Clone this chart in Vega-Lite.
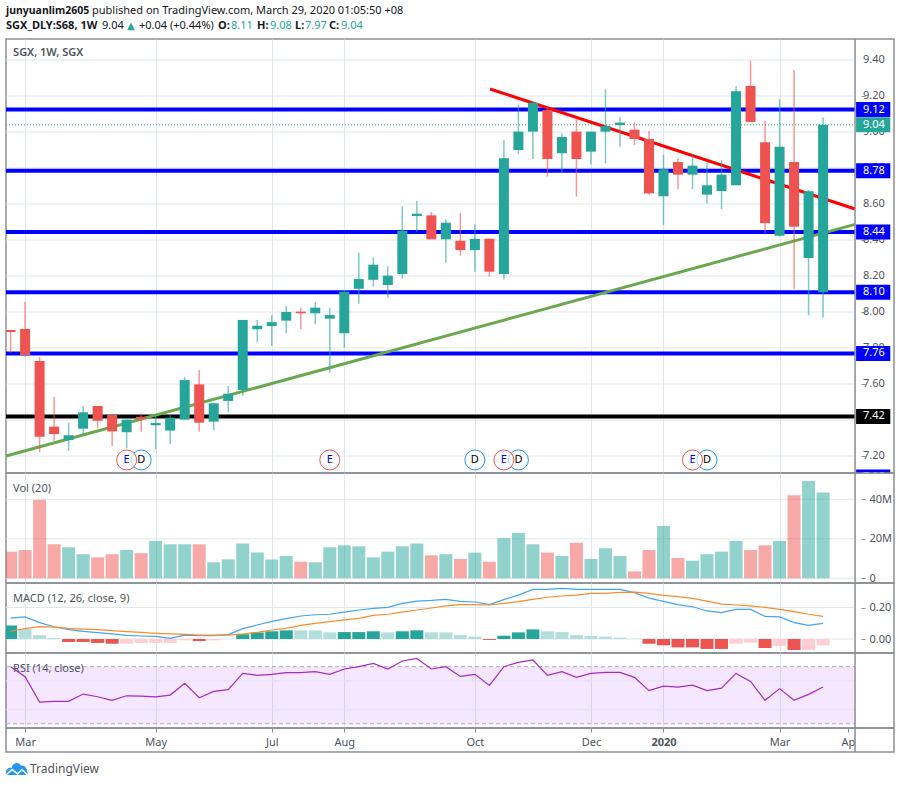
{
  "$schema": "https://vega.github.io/schema/vega-lite/v6.json",
  "padding": {"left": -1, "right": 3, "top": 0, "bottom": 0},
  "background": "white",
  "spacing": 0,
  "bounds": "flush",
  "resolve": {"scale": {"color": "independent"}},
  "config": {
    "font": "Noto Sans",
    "view": {"stroke": "#8a8e95", "strokeWidth": 1.5},
    "concat": {"spacing": 0},
    "axis": {"title": null, "domain": false, "grid": false, "labelColor": "#50535e", "labelFont": "Noto Sans", "labelFontSize": 11, "tickColor": "#8a8e95", "labelOverlap": false}
  },
  "datasets": {
    "bars": [
      {"d":"2019-02-25","o":7.9,"h":7.9,"l":7.774,"c":7.889,"vol":13.5,"hist":0.085,"tone":"up","macd":0.133,"sig":0.049,"rsi":70},
      {"d":"2019-03-04","o":7.906,"h":8.057,"l":7.752,"c":7.761,"vol":14.3,"hist":0.063,"tone":"upFade","macd":0.14,"sig":0.066,"rsi":63},
      {"d":"2019-03-11","o":7.728,"h":7.75,"l":7.222,"c":7.307,"vol":39.7,"hist":0.025,"tone":"upFade","macd":0.104,"sig":0.078,"rsi":45.2},
      {"d":"2019-03-18","o":7.363,"h":7.529,"l":7.285,"c":7.322,"vol":17.2,"hist":0.006,"tone":"upFade","macd":0.078,"sig":0.076,"rsi":45.7},
      {"d":"2019-03-25","o":7.289,"h":7.385,"l":7.229,"c":7.315,"vol":15.7,"hist":-0.019,"tone":"down","macd":0.059,"sig":0.068,"rsi":45.7},
      {"d":"2019-04-01","o":7.352,"h":7.479,"l":7.317,"c":7.443,"vol":12.2,"hist":-0.019,"tone":"down","macd":0.049,"sig":0.063,"rsi":50.8},
      {"d":"2019-04-08","o":7.478,"h":7.478,"l":7.354,"c":7.396,"vol":10.6,"hist":-0.025,"tone":"down","macd":0.04,"sig":0.059,"rsi":48.9},
      {"d":"2019-04-15","o":7.428,"h":7.428,"l":7.256,"c":7.337,"vol":12.2,"hist":-0.03,"tone":"down","macd":0.032,"sig":0.053,"rsi":46.4},
      {"d":"2019-04-22","o":7.332,"h":7.402,"l":7.243,"c":7.402,"vol":14.3,"hist":-0.03,"tone":"downFade","macd":0.023,"sig":0.047,"rsi":49.6},
      {"d":"2019-04-29","o":7.418,"h":7.437,"l":7.335,"c":7.405,"vol":12.7,"hist":-0.025,"tone":"downFade","macd":0.019,"sig":0.042,"rsi":49.4},
      {"d":"2019-05-06","o":7.371,"h":7.428,"l":7.237,"c":7.383,"vol":18.9,"hist":-0.025,"tone":"downFade","macd":0.017,"sig":0.036,"rsi":48.9},
      {"d":"2019-05-13","o":7.341,"h":7.428,"l":7.267,"c":7.413,"vol":17.2,"hist":-0.025,"tone":"downFade","macd":0.004,"sig":0.032,"rsi":50.1},
      {"d":"2019-05-20","o":7.402,"h":7.639,"l":7.402,"c":7.622,"vol":17.2,"hist":-0.008,"tone":"downFade","macd":0.025,"sig":0.03,"rsi":58.3},
      {"d":"2019-05-27","o":7.598,"h":7.678,"l":7.335,"c":7.385,"vol":17.2,"hist":-0.013,"tone":"down","macd":0.021,"sig":0.025,"rsi":48.2},
      {"d":"2019-06-03","o":7.391,"h":7.493,"l":7.344,"c":7.493,"vol":8.1,"hist":-0.008,"tone":"downFade","macd":0.021,"sig":0.025,"rsi":52.7},
      {"d":"2019-06-10","o":7.506,"h":7.589,"l":7.444,"c":7.546,"vol":9.6,"hist":0.001,"tone":"upFade","macd":0.028,"sig":0.025,"rsi":53.9},
      {"d":"2019-06-17","o":7.567,"h":7.956,"l":7.535,"c":7.956,"vol":17.6,"hist":0.03,"tone":"up","macd":0.066,"sig":0.032,"rsi":65.3},
      {"d":"2019-06-24","o":7.904,"h":7.956,"l":7.832,"c":7.924,"vol":13,"hist":0.042,"tone":"up","macd":0.089,"sig":0.042,"rsi":63.9},
      {"d":"2019-07-01","o":7.922,"h":7.983,"l":7.811,"c":7.944,"vol":9.5,"hist":0.049,"tone":"up","macd":0.112,"sig":0.057,"rsi":64.6},
      {"d":"2019-07-08","o":7.952,"h":8.033,"l":7.882,"c":8.0,"vol":11.3,"hist":0.055,"tone":"up","macd":0.129,"sig":0.068,"rsi":65.8},
      {"d":"2019-07-15","o":8.002,"h":8.024,"l":7.904,"c":7.993,"vol":8.4,"hist":0.055,"tone":"upFade","macd":0.146,"sig":0.087,"rsi":65.8},
      {"d":"2019-07-22","o":7.993,"h":8.056,"l":7.932,"c":8.024,"vol":8.1,"hist":0.055,"tone":"upFade","macd":0.154,"sig":0.099,"rsi":66.5},
      {"d":"2019-07-29","o":7.963,"h":8.024,"l":7.663,"c":7.983,"vol":15.7,"hist":0.042,"tone":"upFade","macd":0.157,"sig":0.11,"rsi":64.6},
      {"d":"2019-08-05","o":7.882,"h":8.122,"l":7.802,"c":8.113,"vol":16.7,"hist":0.044,"tone":"up","macd":0.171,"sig":0.121,"rsi":68.4},
      {"d":"2019-08-12","o":8.129,"h":8.328,"l":8.046,"c":8.183,"vol":16.2,"hist":0.044,"tone":"up","macd":0.184,"sig":0.131,"rsi":70},
      {"d":"2019-08-19","o":8.179,"h":8.304,"l":8.141,"c":8.263,"vol":10.6,"hist":0.049,"tone":"up","macd":0.195,"sig":0.15,"rsi":72.3},
      {"d":"2019-08-26","o":8.15,"h":8.254,"l":8.079,"c":8.202,"vol":13.5,"hist":0.042,"tone":"upFade","macd":0.201,"sig":0.157,"rsi":68.4},
      {"d":"2019-09-02","o":8.211,"h":8.587,"l":8.185,"c":8.452,"vol":16.2,"hist":0.049,"tone":"up","macd":0.226,"sig":0.171,"rsi":74},
      {"d":"2019-09-09","o":8.533,"h":8.617,"l":8.444,"c":8.546,"vol":17.6,"hist":0.055,"tone":"up","macd":0.241,"sig":0.184,"rsi":75.8},
      {"d":"2019-09-16","o":8.537,"h":8.556,"l":8.404,"c":8.404,"vol":11.6,"hist":0.042,"tone":"upFade","macd":0.245,"sig":0.197,"rsi":68.4},
      {"d":"2019-09-23","o":8.404,"h":8.515,"l":8.274,"c":8.496,"vol":12.2,"hist":0.042,"tone":"upFade","macd":0.252,"sig":0.21,"rsi":70},
      {"d":"2019-09-30","o":8.396,"h":8.548,"l":8.313,"c":8.344,"vol":9.8,"hist":0.025,"tone":"upFade","macd":0.239,"sig":0.218,"rsi":63.2},
      {"d":"2019-10-07","o":8.344,"h":8.487,"l":8.224,"c":8.406,"vol":13,"hist":0.015,"tone":"upFade","macd":0.235,"sig":0.218,"rsi":64.6},
      {"d":"2019-10-14","o":8.407,"h":8.407,"l":8.196,"c":8.224,"vol":8.4,"hist":-0.006,"tone":"down","macd":0.218,"sig":0.216,"rsi":56.9},
      {"d":"2019-10-21","o":8.211,"h":8.954,"l":8.18,"c":8.854,"vol":20.3,"hist":0.021,"tone":"up","macd":0.25,"sig":0.226,"rsi":70},
      {"d":"2019-10-28","o":8.9,"h":9.152,"l":8.879,"c":9.002,"vol":23,"hist":0.042,"tone":"up","macd":0.279,"sig":0.237,"rsi":73},
      {"d":"2019-11-04","o":9.002,"h":9.163,"l":8.85,"c":9.163,"vol":17.2,"hist":0.061,"tone":"up","macd":0.315,"sig":0.252,"rsi":74.7},
      {"d":"2019-11-11","o":9.122,"h":9.137,"l":8.752,"c":8.85,"vol":13,"hist":0.049,"tone":"upFade","macd":0.315,"sig":0.265,"rsi":63.9},
      {"d":"2019-11-18","o":8.882,"h":8.993,"l":8.771,"c":8.972,"vol":11.3,"hist":0.044,"tone":"upFade","macd":0.322,"sig":0.273,"rsi":66.5},
      {"d":"2019-11-25","o":9.002,"h":9.076,"l":8.641,"c":8.85,"vol":18,"hist":0.025,"tone":"upFade","macd":0.315,"sig":0.279,"rsi":62.5},
      {"d":"2019-12-02","o":8.891,"h":9.002,"l":8.82,"c":9.002,"vol":9.8,"hist":0.019,"tone":"upFade","macd":0.315,"sig":0.29,"rsi":65.3},
      {"d":"2019-12-09","o":9.002,"h":9.237,"l":8.826,"c":9.033,"vol":15.2,"hist":0.015,"tone":"upFade","macd":0.315,"sig":0.29,"rsi":66},
      {"d":"2019-12-16","o":9.039,"h":9.082,"l":8.918,"c":9.052,"vol":11.3,"hist":0.008,"tone":"upFade","macd":0.315,"sig":0.296,"rsi":66},
      {"d":"2019-12-23","o":9.013,"h":9.054,"l":8.928,"c":8.961,"vol":3.5,"hist":0.001,"tone":"upFade","macd":0.294,"sig":0.298,"rsi":62.5},
      {"d":"2019-12-30","o":8.961,"h":9.006,"l":8.652,"c":8.659,"vol":14.3,"hist":-0.03,"tone":"down","macd":0.26,"sig":0.29,"rsi":53.2},
      {"d":"2020-01-06","o":8.643,"h":8.874,"l":8.483,"c":8.793,"vol":26.5,"hist":-0.04,"tone":"down","macd":0.239,"sig":0.277,"rsi":56.4},
      {"d":"2020-01-13","o":8.833,"h":8.854,"l":8.682,"c":8.763,"vol":10.3,"hist":-0.053,"tone":"down","macd":0.218,"sig":0.269,"rsi":55.7},
      {"d":"2020-01-20","o":8.763,"h":8.872,"l":8.682,"c":8.813,"vol":8.9,"hist":-0.053,"tone":"down","macd":0.205,"sig":0.258,"rsi":57.1},
      {"d":"2020-01-27","o":8.652,"h":8.833,"l":8.602,"c":8.704,"vol":12.2,"hist":-0.063,"tone":"down","macd":0.178,"sig":0.241,"rsi":53.2},
      {"d":"2020-02-03","o":8.672,"h":8.844,"l":8.572,"c":8.763,"vol":13.5,"hist":-0.063,"tone":"down","macd":0.167,"sig":0.222,"rsi":55},
      {"d":"2020-02-10","o":8.704,"h":9.256,"l":8.704,"c":9.226,"vol":18.9,"hist":-0.03,"tone":"downFade","macd":0.188,"sig":0.216,"rsi":65.3},
      {"d":"2020-02-17","o":9.256,"h":9.396,"l":9.056,"c":9.056,"vol":14.3,"hist":-0.023,"tone":"downFade","macd":0.188,"sig":0.21,"rsi":59.7},
      {"d":"2020-02-24","o":8.943,"h":9.063,"l":8.437,"c":8.494,"vol":16.7,"hist":-0.057,"tone":"down","macd":0.144,"sig":0.201,"rsi":46.4},
      {"d":"2020-03-02","o":8.424,"h":9.182,"l":8.418,"c":8.918,"vol":18.9,"hist":-0.044,"tone":"downFade","macd":0.14,"sig":0.188,"rsi":54.6},
      {"d":"2020-03-09","o":8.833,"h":9.344,"l":8.126,"c":8.474,"vol":42,"hist":-0.07,"tone":"down","macd":0.104,"sig":0.174,"rsi":46.4},
      {"d":"2020-03-16","o":8.3,"h":8.678,"l":7.982,"c":8.671,"vol":49.3,"hist":-0.07,"tone":"downFade","macd":0.087,"sig":0.157,"rsi":50.6},
      {"d":"2020-03-23","o":8.11,"h":9.08,"l":7.97,"c":9.04,"vol":43.4,"hist":-0.04,"tone":"downFade","macd":0.099,"sig":0.144,"rsi":55.7}
    ],
    "levels": [
      {"level":9.125,"label":"9.12","kind":"support"},
      {"level":8.785,"label":"8.78","kind":"support"},
      {"level":8.445,"label":"8.44","kind":"support"},
      {"level":8.11,"label":"8.10","kind":"support"},
      {"level":7.77,"label":"7.76","kind":"support"},
      {"level":7.42,"label":"7.42","kind":"base"},
      {"level":7.083,"label":"7.08","kind":"support"}
    ],
    "priceTicks": [{"p":7.2},{"p":7.4},{"p":7.6},{"p":7.8},{"p":8.0},{"p":8.2},{"p":8.4},{"p":8.6},{"p":8.8},{"p":9.0},{"p":9.2},{"p":9.4}],
    "events": [
      {"d":"2019-04-29","ev":"D"},
      {"d":"2019-04-22","ev":"E"},
      {"d":"2019-07-29","ev":"E"},
      {"d":"2019-10-07","ev":"D"},
      {"d":"2019-10-28","ev":"D"},
      {"d":"2019-10-21","ev":"E"},
      {"d":"2020-01-27","ev":"D"},
      {"d":"2020-01-20","ev":"E"}
    ]
  },
  "vconcat": [
    {
      "width": 888,
      "height": 39,
      "view": {"stroke": null},
      "data": {"values": [{"row": 1}]},
      "encoding": {
        "x": {"datum": 0, "type": "quantitative", "scale": {"domain": [0, 888], "range": [0, 888]}, "axis": null},
        "y": {"datum": 11, "type": "quantitative", "scale": {"domain": [0, 39], "range": [0, 39]}, "axis": null}
      },
      "layer": [
        {"mark": {"type": "text", "align": "left", "fontSize": 10.5, "fontWeight": "bold", "color": "#131722", "text": "junyuanlim2605"}},
        {"mark": {"type": "text", "align": "left", "fontSize": 11, "color": "#131722", "text": "published on TradingView.com, March 29, 2020 01:05:50 +08"}, "encoding": {"x": {"datum": 86, "type": "quantitative"}}},
        {"mark": {"type": "text", "align": "left", "fontSize": 11, "fontWeight": "bold", "color": "#131722", "text": "SGX_DLY:S68, 1W"}, "encoding": {"y": {"datum": 26, "type": "quantitative"}}},
        {"mark": {"type": "text", "align": "left", "fontSize": 11, "color": "#131722", "text": "9.04"}, "encoding": {"x": {"datum": 96, "type": "quantitative"}, "y": {"datum": 26, "type": "quantitative"}}},
        {"mark": {"type": "text", "align": "left", "fontSize": 10, "font": "DejaVu Sans", "color": "#26a69a", "text": "▲"}, "encoding": {"x": {"datum": 121, "type": "quantitative"}, "y": {"datum": 26, "type": "quantitative"}}},
        {"mark": {"type": "text", "align": "left", "fontSize": 11, "color": "#131722", "text": "+0.04 (+0.44%)"}, "encoding": {"x": {"datum": 133, "type": "quantitative"}, "y": {"datum": 26, "type": "quantitative"}}},
        {"mark": {"type": "text", "align": "left", "fontSize": 11, "fontWeight": "bold", "color": "#131722", "text": "O:"}, "encoding": {"x": {"datum": 212, "type": "quantitative"}, "y": {"datum": 26, "type": "quantitative"}}},
        {"mark": {"type": "text", "align": "left", "fontSize": 11, "color": "#26a69a", "text": "8.11"}, "encoding": {"x": {"datum": 225, "type": "quantitative"}, "y": {"datum": 26, "type": "quantitative"}}},
        {"mark": {"type": "text", "align": "left", "fontSize": 11, "fontWeight": "bold", "color": "#131722", "text": "H:"}, "encoding": {"x": {"datum": 251, "type": "quantitative"}, "y": {"datum": 26, "type": "quantitative"}}},
        {"mark": {"type": "text", "align": "left", "fontSize": 11, "color": "#26a69a", "text": "9.08"}, "encoding": {"x": {"datum": 264, "type": "quantitative"}, "y": {"datum": 26, "type": "quantitative"}}},
        {"mark": {"type": "text", "align": "left", "fontSize": 11, "fontWeight": "bold", "color": "#131722", "text": "L:"}, "encoding": {"x": {"datum": 289, "type": "quantitative"}, "y": {"datum": 26, "type": "quantitative"}}},
        {"mark": {"type": "text", "align": "left", "fontSize": 11, "color": "#26a69a", "text": "7.97"}, "encoding": {"x": {"datum": 299, "type": "quantitative"}, "y": {"datum": 26, "type": "quantitative"}}},
        {"mark": {"type": "text", "align": "left", "fontSize": 11, "fontWeight": "bold", "color": "#131722", "text": "C:"}, "encoding": {"x": {"datum": 323, "type": "quantitative"}, "y": {"datum": 26, "type": "quantitative"}}},
        {"mark": {"type": "text", "align": "left", "fontSize": 11, "color": "#26a69a", "text": "9.04"}, "encoding": {"x": {"datum": 335, "type": "quantitative"}, "y": {"datum": 26, "type": "quantitative"}}}
      ]
    },
    {
      "width": 888,
      "height": 434,
      "layer": [
        {
          "data": {"name": "priceTicks"},
          "mark": {"type": "rule", "color": "#dfe7ec", "strokeWidth": 1},
          "encoding": {
            "x": {"datum": {"year":2019,"month":2,"date":22,"hours":19}, "type": "temporal", "title": null, "scale": {"nice": false, "padding": 0, "domain": ["2019-02-22T19:00:00", "2020-04-26T05:00:00"]},
              "axis": {"values": ["2019-03-04", "2019-05-06", "2019-07-01", "2019-08-05", "2019-10-07", "2019-12-02", "2020-01-06", "2020-03-02"], "labels": false, "ticks": false, "grid": true, "gridColor": "#dfe7ec", "title": null}},
            "x2": {"datum": {"year":2020,"month":4,"date":7,"hours":10}},
            "y": {"field": "p", "type": "quantitative", "title": null, "scale": {"nice": false, "padding": 0, "domain": [7.1056, 9.5167]}, "axis": {"values": [7.2,7.4,7.6,7.8,8.0,8.2,8.4,8.6,8.8,9.0,9.2,9.4], "orient": "right", "offset": -33, "labels": false, "tickSize": 4, "title": null}}
          }
        },
        {
          "data": {"name": "priceTicks"},
          "mark": {"type": "text", "align": "left", "color": "#50535e", "fontSize": 11},
          "encoding": {
            "x": {"datum": {"year":2020,"month":4,"date":11,"hours":5}, "type": "temporal"},
            "y": {"field": "p", "type": "quantitative", "title": null},
            "text": {"field": "p", "type": "quantitative", "format": ".2f"}
          }
        },
        {
          "data": {"name": "levels"},
          "mark": {"type": "rule", "strokeWidth": 4, "clip": true},
          "encoding": {
            "x": {"datum": {"year":2019,"month":2,"date":22,"hours":19}, "type": "temporal"},
            "x2": {"datum": {"year":2020,"month":4,"date":7,"hours":10}},
            "y": {"field": "level", "type": "quantitative", "title": null},
            "color": {"field": "kind", "type": "nominal", "scale": {"domain": ["support", "base"], "range": ["#0000ff", "#000000"]}, "legend": null}
          }
        },
        {
          "data": {"values": [{"p": 9.04}]},
          "mark": {"type": "rule", "strokeWidth": 1, "strokeDash": [1, 2], "color": "#26a69a"},
          "encoding": {
            "x": {"datum": {"year":2019,"month":2,"date":22,"hours":19}, "type": "temporal"},
            "x2": {"datum": {"year":2020,"month":4,"date":7,"hours":10}},
            "y": {"field": "p", "type": "quantitative", "title": null}
          }
        },
        {
          "data": {"values": [{"d": "2019-10-14T08:00:00", "p": 9.239}, {"d": "2020-04-07T10:00:00", "p": 8.572}]},
          "mark": {"type": "line", "color": "#ff0000", "strokeWidth": 3},
          "encoding": {"x": {"field": "d", "type": "temporal", "title": null}, "y": {"field": "p", "type": "quantitative", "title": null}}
        },
        {
          "data": {"values": [{"d": "2019-02-22T19:00:00", "p": 7.2}, {"d": "2020-04-07T10:00:00", "p": 8.487}]},
          "mark": {"type": "line", "color": "#6aa84f", "strokeWidth": 3},
          "encoding": {"x": {"field": "d", "type": "temporal", "title": null}, "y": {"field": "p", "type": "quantitative", "title": null}}
        },
        {
          "data": {"name": "bars"},
          "mark": {"type": "rule", "strokeWidth": 1.5, "opacity": 0.6, "clip": true},
          "encoding": {
            "x": {"field": "d", "type": "temporal", "title": null},
            "y": {"field": "h", "type": "quantitative", "title": null},
            "y2": {"field": "l"},
            "color": {"condition": {"test": "datum.c >= datum.o", "value": "#26a69a"}, "value": "#ef5350"}
          }
        },
        {
          "data": {"name": "bars"},
          "mark": {"type": "bar", "size": 10, "clip": true},
          "encoding": {
            "x": {"field": "d", "type": "temporal", "title": null},
            "y": {"field": "o", "type": "quantitative", "title": null},
            "y2": {"field": "c"},
            "color": {"condition": {"test": "datum.c >= datum.o", "value": "#26a69a"}, "value": "#ef5350"}
          }
        },
        {
          "data": {"name": "events"},
          "mark": {"type": "point", "shape": "circle", "size": 400, "filled": true, "fill": "white", "fillOpacity": 0.6, "strokeWidth": 1, "opacity": 1},
          "encoding": {
            "x": {"field": "d", "type": "temporal", "title": null},
            "y": {"datum": 7.178, "type": "quantitative"},
            "stroke": {"field": "ev", "type": "nominal", "scale": {"domain": ["E", "D"], "range": ["#ef5350", "#2196f3"]}, "legend": null}
          }
        },
        {
          "data": {"name": "events"},
          "mark": {"type": "text", "fontSize": 11},
          "encoding": {
            "x": {"field": "d", "type": "temporal", "title": null},
            "y": {"datum": 7.178, "type": "quantitative"},
            "text": {"field": "ev"},
            "color": {"field": "ev", "type": "nominal", "scale": {"domain": ["E", "D"], "range": ["#ef5350", "#2196f3"]}, "legend": null}
          }
        },
        {
          "data": {"values": [{"p": 9.04}]},
          "mark": {"type": "bar", "size": 15, "orient": "horizontal", "color": "#26a69a"},
          "encoding": {
            "x": {"datum": {"year":2020,"month":4,"date":7,"hours":22}, "type": "temporal"},
            "x2": {"datum": {"year":2020,"month":4,"date":24,"hours":10}},
            "y": {"field": "p", "type": "quantitative", "title": null}
          }
        },
        {
          "data": {"name": "levels"},
          "mark": {"type": "bar", "size": 15, "orient": "horizontal", "clip": true},
          "encoding": {
            "x": {"datum": {"year":2020,"month":4,"date":7,"hours":22}, "type": "temporal"},
            "x2": {"datum": {"year":2020,"month":4,"date":24,"hours":10}},
            "y": {"field": "level", "type": "quantitative", "title": null},
            "color": {"field": "kind", "type": "nominal", "scale": {"domain": ["support", "base"], "range": ["#0000ff", "#000000"]}, "legend": null}
          }
        },
        {
          "data": {"name": "levels"},
          "mark": {"type": "text", "align": "left", "color": "white", "fontSize": 11, "clip": true},
          "encoding": {
            "x": {"datum": {"year":2020,"month":4,"date":11,"hours":5}, "type": "temporal"},
            "y": {"field": "level", "type": "quantitative", "title": null},
            "text": {"field": "label"}
          }
        },
        {
          "data": {"values": [{"p": 9.04, "label": "9.04"}]},
          "mark": {"type": "text", "align": "left", "color": "white", "fontSize": 11},
          "encoding": {
            "x": {"datum": {"year":2020,"month":4,"date":11,"hours":5}, "type": "temporal"},
            "y": {"field": "p", "type": "quantitative", "title": null},
            "text": {"field": "label"}
          }
        },
        {
          "data": {"values": [{"t": "SGX, 1W, SGX"}]},
          "mark": {"type": "text", "align": "left", "color": "#50535e", "fontSize": 11, "fontWeight": 600},
          "encoding": {
            "x": {"datum": {"year":2019,"month":2,"date":26,"hours":5}, "type": "temporal"},
            "y": {"datum": 9.439, "type": "quantitative"},
            "text": {"field": "t"}
          }
        },
        {
          "data": {"values": [{"t": 1}]},
          "mark": {"type": "rule", "color": "#8a8e95", "strokeWidth": 1.5},
          "encoding": {"x": {"datum": {"year":2020,"month":4,"date":7,"hours":10}, "type": "temporal"}}
        }
      ]
    },
    {
      "width": 888,
      "height": 110,
      "layer": [
        {
          "data": {"values": [{"p": 0}, {"p": 20}, {"p": 40}]},
          "mark": {"type": "rule", "color": "#dfe7ec", "strokeWidth": 1},
          "encoding": {
            "x": {"datum": {"year":2019,"month":2,"date":22,"hours":19}, "type": "temporal", "title": null, "scale": {"nice": false, "padding": 0, "domain": ["2019-02-22T19:00:00", "2020-04-26T05:00:00"]},
              "axis": {"values": ["2019-03-04", "2019-05-06", "2019-07-01", "2019-08-05", "2019-10-07", "2019-12-02", "2020-01-06", "2020-03-02"], "labels": false, "ticks": false, "grid": true, "gridColor": "#dfe7ec", "title": null}},
            "x2": {"datum": {"year":2020,"month":4,"date":7,"hours":10}},
            "y": {"field": "p", "type": "quantitative", "title": null, "scale": {"nice": false, "domain": [-2.38, 53.3]}, "axis": {"values": [0, 20, 40], "orient": "right", "offset": -33, "labelExpr": "datum.value == 0 ? '0' : datum.value + 'M'", "tickSize": 4, "labelPadding": 4, "labelOverlap": false, "title": null}}
          }
        },
        {
          "data": {"name": "bars"},
          "mark": {"type": "bar", "size": 13, "opacity": 0.5, "clip": true},
          "encoding": {
            "x": {"field": "d", "type": "temporal", "title": null},
            "y": {"field": "vol", "type": "quantitative", "title": null},
            "color": {"condition": {"test": "datum.c >= datum.o", "value": "#26a69a"}, "value": "#ef5350"}
          }
        },
        {
          "data": {"values": [{"t": "Vol (20)"}]},
          "mark": {"type": "text", "align": "left", "color": "#50535e", "fontSize": 11},
          "encoding": {
            "x": {"datum": {"year":2019,"month":2,"date":26,"hours":5}, "type": "temporal"},
            "y": {"datum": 45.2, "type": "quantitative"},
            "text": {"field": "t"}
          }
        },
        {
          "data": {"values": [{"t": 1}]},
          "mark": {"type": "rule", "color": "#8a8e95", "strokeWidth": 1.5},
          "encoding": {"x": {"datum": {"year":2020,"month":4,"date":7,"hours":10}, "type": "temporal"}}
        }
      ]
    },
    {
      "width": 888,
      "height": 70,
      "layer": [
        {
          "data": {"values": [{"p": 0}, {"p": 0.2}]},
          "mark": {"type": "rule", "color": "#dfe7ec", "strokeWidth": 1},
          "encoding": {
            "x": {"datum": {"year":2019,"month":2,"date":22,"hours":19}, "type": "temporal", "title": null, "scale": {"nice": false, "padding": 0, "domain": ["2019-02-22T19:00:00", "2020-04-26T05:00:00"]},
              "axis": {"values": ["2019-03-04", "2019-05-06", "2019-07-01", "2019-08-05", "2019-10-07", "2019-12-02", "2020-01-06", "2020-03-02"], "labels": false, "ticks": false, "grid": true, "gridColor": "#dfe7ec", "title": null}},
            "x2": {"datum": {"year":2020,"month":4,"date":7,"hours":10}},
            "y": {"field": "p", "type": "quantitative", "title": null, "scale": {"nice": false, "domain": [-0.0889, 0.3556]}, "axis": {"values": [0, 0.2], "orient": "right", "offset": -33, "format": ".2f", "tickSize": 4, "labelPadding": 4, "labelOverlap": false, "title": null}}
          }
        },
        {
          "data": {"name": "bars"},
          "mark": {"type": "bar", "size": 13, "clip": true},
          "encoding": {
            "x": {"field": "d", "type": "temporal", "title": null},
            "y": {"field": "hist", "type": "quantitative", "title": null},
            "color": {"field": "tone", "type": "nominal", "scale": {"domain": ["up", "upFade", "down", "downFade"], "range": ["#26a69a", "#b2dfdb", "#ef5350", "#ffcdd2"]}, "legend": null}
          }
        },
        {
          "data": {"name": "bars"},
          "mark": {"type": "line", "color": "#42a5f5", "strokeWidth": 1.2},
          "encoding": {"x": {"field": "d", "type": "temporal", "title": null}, "y": {"field": "macd", "type": "quantitative", "title": null}}
        },
        {
          "data": {"name": "bars"},
          "mark": {"type": "line", "color": "#fb8c29", "strokeWidth": 1.2},
          "encoding": {"x": {"field": "d", "type": "temporal", "title": null}, "y": {"field": "sig", "type": "quantitative", "title": null}}
        },
        {
          "data": {"values": [{"t": "MACD (12, 26, close, 9)"}]},
          "mark": {"type": "text", "align": "left", "color": "#50535e", "fontSize": 11},
          "encoding": {
            "x": {"datum": {"year":2019,"month":2,"date":26,"hours":5}, "type": "temporal"},
            "y": {"datum": 0.254, "type": "quantitative"},
            "text": {"field": "t"}
          }
        },
        {
          "data": {"values": [{"t": 1}]},
          "mark": {"type": "rule", "color": "#8a8e95", "strokeWidth": 1.5},
          "encoding": {"x": {"datum": {"year":2020,"month":4,"date":7,"hours":10}, "type": "temporal"}}
        }
      ]
    },
    {
      "width": 888,
      "height": 75,
      "layer": [
        {
          "data": {"values": [{"top": 70, "bottom": 30}]},
          "mark": {"type": "rect", "color": "#9915ff", "opacity": 0.1},
          "encoding": {
            "x": {"datum": {"year":2019,"month":2,"date":22,"hours":19}, "type": "temporal", "title": null, "scale": {"nice": false, "padding": 0, "domain": ["2019-02-22T19:00:00", "2020-04-26T05:00:00"]},
              "axis": {"values": ["2019-03-04", "2019-05-06", "2019-07-01", "2019-08-05", "2019-10-07", "2019-12-02", "2020-01-06", "2020-03-02"], "labels": false, "ticks": false, "grid": true, "gridColor": "#dfe7ec", "title": null}},
            "x2": {"datum": {"year":2020,"month":4,"date":7,"hours":10}},
            "y": {"field": "top", "type": "quantitative", "title": null, "scale": {"nice": false, "domain": [27, 79.6]}, "axis": null},
            "y2": {"field": "bottom"}
          }
        },
        {
          "data": {"values": [{"p": 40}, {"p": 60}]},
          "mark": {"type": "rule", "color": "#e3e3f2", "strokeWidth": 1},
          "encoding": {
            "x": {"datum": {"year":2019,"month":2,"date":22,"hours":19}, "type": "temporal"},
            "x2": {"datum": {"year":2020,"month":4,"date":7,"hours":10}},
            "y": {"field": "p", "type": "quantitative", "axis": null}
          }
        },
        {
          "data": {"values": [{"p": 30}, {"p": 70}]},
          "mark": {"type": "rule", "color": "#b0a8b8", "strokeWidth": 1, "strokeDash": [4, 3]},
          "encoding": {
            "x": {"datum": {"year":2019,"month":2,"date":22,"hours":19}, "type": "temporal"},
            "x2": {"datum": {"year":2020,"month":4,"date":7,"hours":10}},
            "y": {"field": "p", "type": "quantitative", "axis": null}
          }
        },
        {
          "data": {"name": "bars"},
          "mark": {"type": "line", "color": "#a32cc4", "strokeWidth": 1.2},
          "encoding": {"x": {"field": "d", "type": "temporal", "title": null}, "y": {"field": "rsi", "type": "quantitative", "axis": null}}
        },
        {
          "data": {"values": [{"t": "RSI (14, close)"}]},
          "mark": {"type": "text", "align": "left", "color": "#50535e", "fontSize": 11},
          "encoding": {
            "x": {"datum": {"year":2019,"month":2,"date":26,"hours":5}, "type": "temporal"},
            "y": {"datum": 68.6, "type": "quantitative", "axis": null},
            "text": {"field": "t"}
          }
        },
        {
          "data": {"values": [{"t": 1}]},
          "mark": {"type": "rule", "color": "#8a8e95", "strokeWidth": 1.5},
          "encoding": {"x": {"datum": {"year":2020,"month":4,"date":7,"hours":10}, "type": "temporal"}}
        }
      ]
    },
    {
      "width": 888,
      "height": 24,
      "data": {"values": [{"t": 1}]},
      "mark": {"type": "rule", "color": "#8a8e95", "strokeWidth": 1.5},
      "encoding": {
        "x": {"datum": {"year":2020,"month":4,"date":7,"hours":10}, "type": "temporal", "title": null, "scale": {"nice": false, "domain": ["2019-02-22T19:00:00", "2020-04-26T05:00:00"]},
          "axis": {"values": ["2019-03-04", "2019-05-06", "2019-07-01", "2019-08-05", "2019-10-07", "2019-12-02", "2020-01-06", "2020-03-02", "2020-04-04"], "orient": "bottom", "offset": -24, "tickSize": 4, "labelPadding": 4, "labelFlush": false, "labelOverlap": false,
            "labelExpr": "month(datum.value) == 0 ? '2020' : month(datum.value) == 3 && year(datum.value) == 2020 ? 'Ap' : timeFormat(datum.value, '%b')",
            "labelFontWeight": {"condition": {"test": "month(datum.value) == 0", "value": "bold"}, "value": "normal"},
            "title": null}}
      }
    },
    {
      "width": 888,
      "height": 33,
      "view": {"stroke": null},
      "data": {"values": [{"row": 1}]},
      "encoding": {
        "x": {"datum": 11, "type": "quantitative", "scale": {"domain": [0, 888], "range": [0, 888]}, "axis": null},
        "y": {"datum": 17, "type": "quantitative", "scale": {"domain": [0, 33], "range": [0, 33]}, "axis": null}
      },
      "layer": [
        {"mark": {"type": "point", "filled": true, "color": "#2196f3", "opacity": 1, "size": 484, "shape": "M-1 .55 C-1.1 .1 -.8 -.15 -.5 -.1 C-.4 -.6 .2 -.7 .35 -.3 C.7 -.4 1 0 .95 .55 Z"}},
        {"mark": {"type": "point", "filled": false, "stroke": "white", "strokeWidth": 1.5, "opacity": 1, "size": 484, "shape": "M-1 .55 L-.45 .05 L.05 .45 L.45 .05 L.95 .55"}},
        {"mark": {"type": "text", "align": "left", "fontSize": 12, "color": "#50535e", "text": "TradingView"}, "encoding": {"x": {"datum": 24, "type": "quantitative"}}}
      ]
    }
  ]
}
